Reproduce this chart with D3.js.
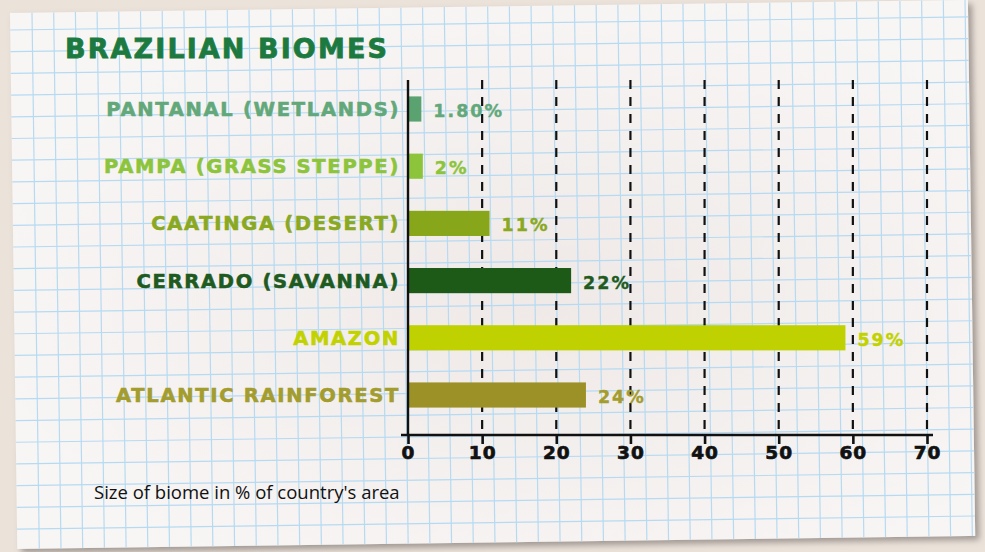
<!DOCTYPE html>
<html>
<head>
<meta charset="utf-8">
<script src="https://cdn.jsdelivr.net/npm/d3@7"></script>
<style>
  html, body { margin: 0; padding: 0; background: #ebe2da; }
  svg { display: block; }
</style>
</head>
<body>
<div id="chart"></div>
<script>
const title = "BRAZILIAN BIOMES";
const subtitle = "Size of biome in % of country's area";
const categories = ["PANTANAL (WETLANDS)", "PAMPA (GRASS STEPPE)", "CAATINGA (DESERT)", "CERRADO (SAVANNA)", "AMAZON", "ATLANTIC RAINFOREST"];
const values = [1.8, 2, 11, 22, 59, 24];
const valueLabels = ["1.80%", "2%", "11%", "22%", "59%", "24%"];
const barColors = ["#5ba271", "#8cc43c", "#88a61a", "#1d5a17", "#bfd100", "#9c9127"];
const labelColors = ["#62a87a", "#8cc43c", "#8aa821", "#1f5a20", "#c2d200", "#a39c2e"];
const xTicks = [0, 10, 20, 30, 40, 50, 60, 70];

const W = 985, H = 552;
const svg = d3.select("#chart").append("svg").attr("width", W).attr("height", H);

const defs = svg.append("defs");
const f = defs.append("filter").attr("id", "shadow").attr("x", "-5%").attr("y", "-5%").attr("width", "110%").attr("height", "115%");
f.append("feDropShadow").attr("dx", 4).attr("dy", 4).attr("stdDeviation", 3).attr("flood-color", "#6d6660").attr("flood-opacity", 0.6);

const rg = defs.append("radialGradient").attr("id", "paperShade").attr("cx", "55%").attr("cy", "55%").attr("r", "60%");
rg.append("stop").attr("offset", "0%").attr("stop-color", "#efe9e7");
rg.append("stop").attr("offset", "100%").attr("stop-color", "#f8f6f5");

svg.append("rect").attr("width", W).attr("height", H).attr("fill", "#ebe2da");

// paper (slightly rotated)
const paper = svg.append("g").attr("transform", "rotate(-0.78, 10, 13)");
const pw = 958, ph = 536;
paper.append("rect").attr("x", 10).attr("y", 13).attr("width", pw).attr("height", ph)
  .attr("fill", "url(#paperShade)").attr("filter", "url(#shadow)");

const gridStep = 21.7;
const gridG = paper.append("g").attr("stroke", "#b6daf2").attr("stroke-width", 1.2);
for (let x = 10 + 22; x < 10 + pw; x += gridStep) {
  gridG.append("line").attr("x1", x).attr("x2", x).attr("y1", 13).attr("y2", 13 + ph);
}
for (let y = 13 + 17; y < 13 + ph; y += gridStep) {
  gridG.append("line").attr("x1", 10).attr("x2", 10 + pw).attr("y1", y).attr("y2", y);
}

// scales
const x = d3.scaleLinear().domain([0, 70]).range([408, 927]);
const y = d3.scaleBand().domain(categories).range([80.4, 423.6]).paddingInner(0.56).paddingOuter(0.28);
const axisY = 435;

// dashed gridlines
svg.append("g").selectAll("line").data(xTicks.slice(1)).join("line")
  .attr("x1", d => x(d)).attr("x2", d => x(d))
  .attr("y1", 80).attr("y2", axisY)
  .attr("stroke", "#111").attr("stroke-width", 2.2)
  .attr("stroke-dasharray", "9,8");

// bars
svg.append("g").selectAll("rect").data(values).join("rect")
  .attr("x", x(0))
  .attr("y", (d, i) => y(categories[i]))
  .attr("width", d => x(d) - x(0))
  .attr("height", y.bandwidth())
  .attr("fill", (d, i) => barColors[i]);

// vertical axis line
svg.append("line").attr("x1", x(0)).attr("x2", x(0)).attr("y1", 80).attr("y2", axisY)
  .attr("stroke", "#111").attr("stroke-width", 2.4);

// x axis
const xAxis = d3.axisBottom(x).tickValues(xTicks).tickSize(9).tickPadding(2).tickFormat(d3.format("d"));
const ax = svg.append("g").attr("transform", `translate(0,${axisY})`).call(xAxis);
ax.select(".domain").remove();
ax.append("line").attr("x1", 401).attr("x2", 933).attr("y1", 0).attr("y2", 0)
  .attr("stroke", "#111").attr("stroke-width", 2.6);
ax.selectAll(".tick line").attr("stroke", "#111").attr("stroke-width", 2.6);
ax.selectAll(".tick text")
  .attr("fill", "#111")
  .attr("font-family", "DejaVu Sans")
  .attr("font-weight", "bold")
  .attr("font-size", 18.5)
  .attr("letter-spacing", 1)
  .attr("stroke", "#111").attr("stroke-width", 0.7);

// category labels
svg.append("g").selectAll("text").data(categories).join("text")
  .attr("x", 400)
  .attr("y", d => y(d) + y.bandwidth() / 2 + 7)
  .attr("text-anchor", "end")
  .attr("font-family", "DejaVu Sans")
  .attr("font-weight", "bold")
  .attr("font-size", 19.5)
  .attr("letter-spacing", 1.7)
  .attr("fill", (d, i) => labelColors[i])
  .attr("stroke", (d, i) => labelColors[i])
  .attr("stroke-width", 0.6)
  .text(d => d);

// value labels
svg.append("g").selectAll("text").data(values).join("text")
  .attr("x", d => x(d) + 12)
  .attr("y", (d, i) => y(categories[i]) + y.bandwidth() / 2 + 8)
  .attr("font-family", "DejaVu Sans")
  .attr("font-weight", "bold")
  .attr("font-size", 17.5)
  .attr("letter-spacing", 2)
  .attr("fill", (d, i) => labelColors[i])
  .attr("stroke", (d, i) => labelColors[i])
  .attr("stroke-width", 0.4)
  .text((d, i) => valueLabels[i]);

// title
svg.append("text").attr("x", 65).attr("y", 58)
  .attr("font-family", "DejaVu Sans").attr("font-weight", "bold")
  .attr("font-size", 27).attr("fill", "#1c7a40")
  .attr("letter-spacing", 2.1)
  .attr("stroke", "#1c7a40").attr("stroke-width", 0.8)
  .text(title);

// subtitle
svg.append("text").attr("x", 94).attr("y", 499)
  .attr("font-family", "Open Sans").attr("font-size", 18.5).attr("fill", "#111")
  .text(subtitle);
</script>
</body>
</html>
